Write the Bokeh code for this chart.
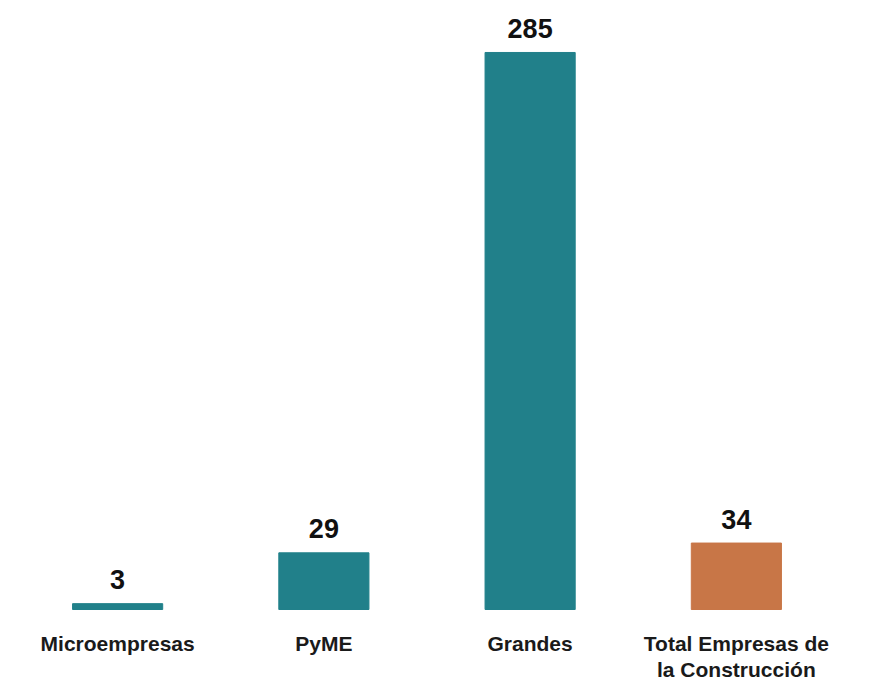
from bokeh.plotting import figure
from bokeh.models import ColumnDataSource, FactorRange, Range1d
from bokeh.core.properties import value
from bokeh.embed import file_html
from bokeh.resources import INLINE

categories = ["Microempresas", "PyME", "Grandes", "Total Empresas de la Construcción"]
category_labels = ["Microempresas", "PyME", "Grandes", "Total Empresas de\nla Construcción"]
values = [3, 29, 285, 34]
colors = ["#21808A", "#21808A", "#21808A", "#C87647"]
labels = ["3", "29", "285", "34"]

FONT = "'Liberation Sans', Arial, sans-serif"

src = ColumnDataSource(dict(cat=categories, val=values, col=colors, lab=labels,
                            catlab=category_labels, zero=[0, 0, 0, 0]))

p = figure(x_range=FactorRange(*categories, range_padding=0),
           y_range=Range1d(-38.37, 307.5),
           width=856, height=684, output_backend="svg", toolbar_location=None,
           min_border_left=14, min_border_right=17, min_border_top=8, min_border_bottom=0)
p.x_range.range_padding = 0
p.vbar(x="cat", top="val", bottom=0, width=0.437, color="col", source=src)
p.text(x="cat", y="val", text="lab", source=src, text_align="center",
       text_baseline="alphabetic", y_offset=-24, text_font=value(FONT),
       text_font_style="bold", text_font_size="27px", text_color="#111111")
p.text(x="cat", y="zero", text="catlab", source=src, text_align="center",
       text_baseline="top", y_offset=22, text_font=value(FONT),
       text_font_style="bold", text_font_size="21px", text_color="#1a1a1a",
       text_line_height=1.15)

p.xaxis.visible = False
p.yaxis.visible = False
p.xgrid.visible = False
p.ygrid.visible = False
p.outline_line_color = None
p.background_fill_color = "white"
p.border_fill_color = "white"

open("out.html", "w").write(file_html(p, INLINE))
